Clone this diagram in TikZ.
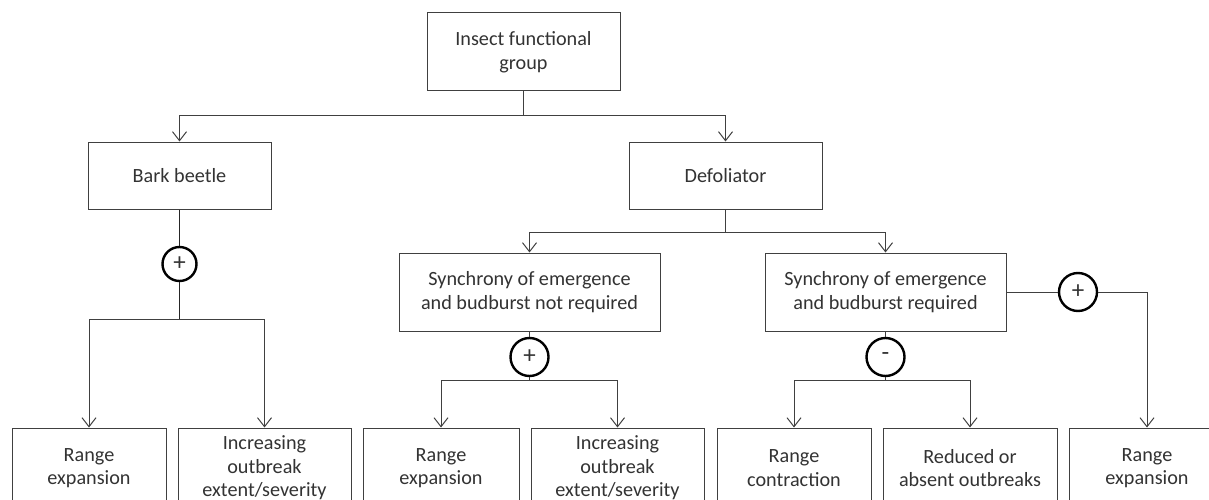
\documentclass[tikz,border=0pt]{standalone}
\usepackage{fontspec}
\setmainfont{Carlito}
\usetikzlibrary{arrows.meta}
\definecolor{linegray}{HTML}{404040}
\definecolor{txtgray}{HTML}{333333}
\tikzset{
  box/.style={draw=linegray, line width=1pt, fill=white, align=center, text=txtgray, inner sep=0pt, font=\fontsize{20.2}{23.5}\selectfont},
  endbox/.style={box, minimum height=80pt},
  sign/.style={circle, draw=black, line width=2.4pt, fill=white, inner sep=0pt, minimum size=38pt, text=txtgray, font=\fontsize{25}{25}\selectfont},
  link/.style={draw=linegray, line width=1pt},
  arr/.style={link, -{Straight Barb[length=9pt,width=14pt]}},
}

\begin{document}
\begin{tikzpicture}[x=1pt,y=-1pt]
  \useasboundingbox (0,0) rectangle (1209,500);
  \clip (0,0) rectangle (1209,500);

  % upper levels
  \node (insect) [box, minimum width=193pt, minimum height=78pt] at (523.5,52) {Insect functional\\group};
  \node (bark) [box, minimum width=183pt, minimum height=67pt] at (179.5,175.5) {Bark beetle};
  \node (defol) [box, minimum width=193pt, minimum height=67pt] at (725.5,175.5) {Defoliator};
  \node (notreq) [box, minimum width=261pt, minimum height=78pt] at (529.5,292) {Synchrony of emergence\\and budburst not required};
  \node (req) [box, minimum width=241pt, minimum height=78pt] at (885.5,292) {Synchrony of emergence\\and budburst required};

  % outcomes
  \node (rexpA) [endbox, minimum width=154pt] at (89,468) {Range\\expansion};
  \node (incrA) [endbox, minimum width=173pt] at (264.5,468) {Increasing\\outbreak\\extent/severity};
  \node (rexpB) [endbox, minimum width=156pt] at (441,468) {Range\\expansion};
  \node (incrB) [endbox, minimum width=173pt] at (617.5,468) {Increasing\\outbreak\\extent/severity};
  \node (rcon) [endbox, minimum width=154pt] at (794,468) {Range\\contraction};
  \node (redu) [endbox, minimum width=174pt] at (970,468) {Reduced or\\absent outbreaks};
  \node (rexpC) [endbox, minimum width=156pt] at (1147,468) {Range\\expansion};

  % effect signs
  \node (sA) [sign, minimum size=34pt] at (179.5,264) {+};
  \node (sB) [sign] at (529.5,357) {+};
  \node (sC) [sign] at (885.5,357) {-};
  \node (sD) [sign] at (1078,292) {+};

  \coordinate (jtop) at (523.5,116);
  \coordinate (jdef) at (725.5,232);
  \coordinate (jA) at (179.5,319);
  \coordinate (jB) at (529.5,380);
  \coordinate (jC) at (885.5,380);

  \draw[link] (insect) -- (jtop);
  \draw[arr] (jtop) -| (bark.north);
  \draw[arr] (jtop) -| (defol.north);

  \draw[link, line width=1.6pt, draw=black!85] (bark) -- (sA);
  \draw[link, line width=1.6pt, draw=black!85] (sA) -- (jA);
  \draw[arr] (jA) -| (rexpA.north);
  \draw[arr] (jA) -| (incrA.north);

  \draw[link] (defol) -- (jdef);
  \draw[arr] (jdef) -| (notreq.north);
  \draw[arr] (jdef) -| (req.north);

  \draw[link] (notreq) -- (sB);
  \draw[link] (sB) -- (jB);
  \draw[arr] (jB) -| (rexpB.north);
  \draw[arr] (jB) -| (incrB.north);

  \draw[link] (req) -- (sC);
  \draw[link] (sC) -- (jC);
  \draw[arr] (jC) -| (rcon.north);
  \draw[arr] (jC) -| (redu.north);

  \draw[link] (req.east) -- (sD);
  \draw[arr] (sD) -| (rexpC.north);

\end{tikzpicture}
\end{document}
